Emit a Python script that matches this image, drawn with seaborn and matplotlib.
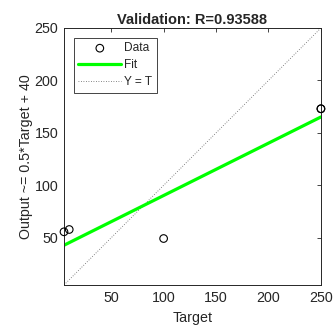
import numpy as np
import pandas as pd
import matplotlib
matplotlib.use("Agg")
import matplotlib.pyplot as plt
import seaborn as sns

# Data (two points overlap at T=250)
targets = [5, 10, 100, 250, 250]
outputs = [55.7, 57.9, 49.3, 173, 173]
ticks = [50, 100, 150, 200, 250]
lims = [5, 250]
title = "Validation: R=0.93588"

df = pd.DataFrame({"Target": targets, "Output": outputs})

# linear fit like plotregression
slope, icept = np.polyfit(df["Target"], df["Output"], 1)
fit_x = np.array(lims, dtype=float)
fit_df = pd.DataFrame({"x": fit_x, "y": slope * fit_x + icept})

sns.set_style("white")
plt.rcParams["font.family"] = ["Liberation Sans", "DejaVu Sans"]

fig = plt.figure(figsize=(3.35, 3.32), dpi=100)
ax = fig.add_axes([0.191, 0.1416, 0.767, 0.7741])

sns.scatterplot(data=df, x="Target", y="Output", ax=ax, marker="o",
                facecolor="none", edgecolor="black", linewidth=0.8, s=30,
                label="Data", zorder=3, clip_on=False)
sns.lineplot(data=fit_df, x="x", y="y", ax=ax, color=(0, 1, 0), linewidth=2.3,
             label="Fit", zorder=2)
ax.plot(lims, lims, linestyle=(0, (1, 2)), color="#606060", linewidth=0.6,
        label="Y = T", zorder=1)

ax.set_xlim(lims)
ax.set_ylim(lims)
ax.set_xticks(ticks)
ax.set_yticks(ticks)
ax.tick_params(direction="in", length=3, width=0.6, top=True, right=True,
               labelsize=10.3, colors="#262626", labelcolor="#262626", pad=4)
for sp in ax.spines.values():
    sp.set_color("#262626")
    sp.set_linewidth(0.7)

ax.set_xlabel("Target", fontsize=10.3, color="#262626", labelpad=5)
ax.set_ylabel("Output ~= 0.5*Target + 40", fontsize=10.3, color="#262626", labelpad=1)
ax.set_title(title, fontsize=10.5, fontweight="bold", pad=3)

leg = ax.legend(loc="upper left", fontsize=8.6, frameon=True, fancybox=False,
                edgecolor="#262626", framealpha=1, borderpad=0.4,
                handlelength=3.6, handletextpad=0.25, labelspacing=0.4,
                borderaxespad=0.8)
leg.get_frame().set_linewidth(0.6)

fig.savefig("out.png", dpi=100)
